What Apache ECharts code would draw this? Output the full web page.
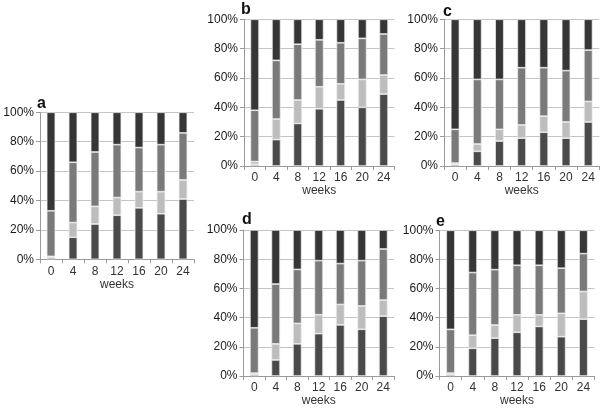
<!DOCTYPE html>
<html>
<head>
<meta charset="utf-8">
<script src="https://cdn.jsdelivr.net/npm/echarts@6/dist/echarts.min.js"></script>
<style>html,body{margin:0;padding:0;background:#fff}#c{width:601px;height:408px}</style>
</head>
<body>
<div id="c"></div>
<script>
const categories = ['0','4','8','12','16','20','24'];
const yTicks = [0,20,40,60,80,100];
const panelLabels = ['a','b','c','d','e'];

const a_dark  = [1,15,24,30,35,31,41];
const a_light = [1,10,12,12,11,15,13];
const a_mid   = [31,41,37,36,30,32,32];
const a_top   = [67,34,27,22,24,22,14];

const b_dark  = [1,18,29,39,45,40,49];
const b_light = [2,14,16,15,11,19,13];
const b_mid   = [35,40,38,32,28,28,28];
const b_top   = [62,28,17,14,16,13,10];

const c_dark  = [1,10,17,19,23,19,30];
const c_light = [1,5,8,9,11,11,14];
const c_mid   = [23,44,34,39,33,35,35];
const c_top   = [75,41,41,33,33,35,21];

const d_dark  = [1,11,22,29,35,32,41];
const d_light = [1,11,14,13,14,16,11];
const d_mid   = [31,41,37,37,28,31,35];
const d_top   = [67,37,27,21,23,21,13];

const e_dark  = [1,19,26,30,34,27,39];
const e_light = [1,9,9,12,8,16,19];
const e_mid   = [30,43,38,34,34,31,26];
const e_top   = [68,29,27,24,24,26,16];

const panels = [
  [a_dark,a_light,a_mid,a_top],
  [b_dark,b_light,b_mid,b_top],
  [c_dark,c_light,c_mid,c_top],
  [d_dark,d_light,d_mid,d_top],
  [e_dark,e_light,e_mid,e_top]
];

const grids = [
  {left:40,  top:112.3, width:154,   height:147},
  {left:244, top:19.3,  width:150.5, height:146.7},
  {left:444, top:19.3,  width:155.3, height:146.7},
  {left:243.5, top:230, width:150.5, height:146.7},
  {left:439.5, top:230.3, width:155, height:146.7}
];
const titlePos = [
  {left:37, top:96},
  {left:241, top:2},
  {left:443, top:4},
  {left:242, top:212},
  {left:436, top:214}
];
const colors = ['#4a4a4a','#bdbdbd','#7a7a7a','#363636'];
const font = "'Liberation Sans', Arial, sans-serif";

const option = {
  animation:false,
  backgroundColor:'#fff',
  title: panelLabels.map((t,i)=>({text:t, left:titlePos[i].left, top:titlePos[i].top, padding:0,
    textStyle:{fontFamily:font, fontWeight:'bold', fontSize:16, color:'#111'}})),
  grid: grids.map(g=>Object.assign({containLabel:false}, g)),
  xAxis: grids.map((g,i)=>({
    type:'category', gridIndex:i, data:categories,
    name:'weeks', nameLocation:'middle', nameGap:19,
    nameTextStyle:{fontFamily:font, fontSize:12, color:'#333'},
    axisLine:{lineStyle:{color:'#9a9a9a', width:1}},
    axisTick:{show:true, length:4, lineStyle:{color:'#9a9a9a'}},
    axisLabel:{fontFamily:font, fontSize:12, color:'#333', margin:6}
  })),
  yAxis: grids.map((g,i)=>({
    type:'value', gridIndex:i, min:yTicks[0], max:yTicks[yTicks.length-1], interval:20,
    axisLine:{show:true, lineStyle:{color:'#9a9a9a', width:1}},
    axisTick:{show:true, length:4, lineStyle:{color:'#9a9a9a'}},
    splitLine:{show:true, lineStyle:{color:'#c4c4c4', width:1}},
    axisLabel:{fontFamily:font, fontSize:12, color:'#1a1a1a', margin:6, formatter:'{value}%'}
  })),
  series: []
};
panels.forEach((p,i)=>{
  p.forEach((arr,k)=>{
    option.series.push({
      type:'bar', stack:'s'+i, xAxisIndex:i, yAxisIndex:i, data:arr,
      barWidth:8.6,
      itemStyle:{color:colors[k], borderColor:'#eeeeee', borderWidth:0.7}
    });
  });
});
const chart = echarts.init(document.getElementById('c'), null, {renderer:'canvas'});
chart.setOption(option);
</script>
</body>
</html>
